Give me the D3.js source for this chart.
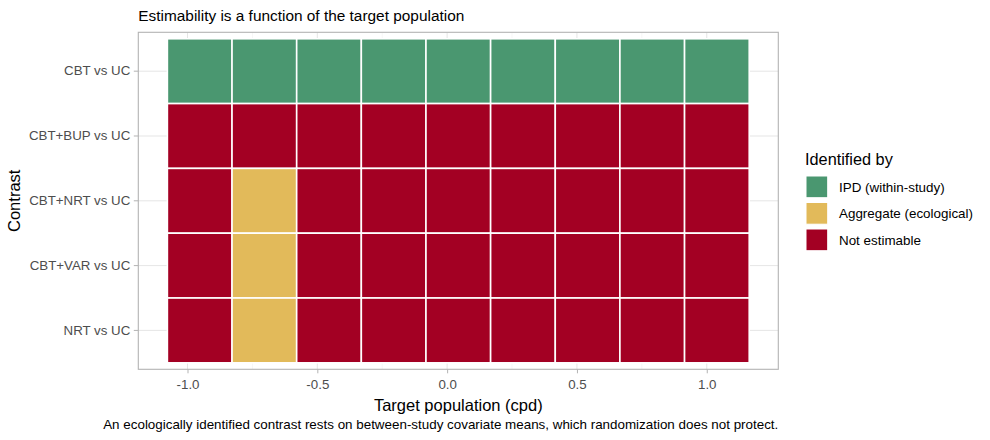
<!DOCTYPE html>
<html>
<head>
<meta charset="utf-8">
<script src="https://cdn.jsdelivr.net/npm/d3@7"></script>
<style>
  body { margin: 0; background: #fff; }
  svg text { font-family: "Liberation Sans", Arial, Helvetica, sans-serif; }
</style>
</head>
<body>
<div id="chart"></div>
<script>
// contrasts, top to bottom
var contrasts = ["CBT vs UC", "CBT+BUP vs UC", "CBT+NRT vs UC", "CBT+VAR vs UC", "NRT vs UC"]
// tile centres on the target population axis (cpd, standardised)
var xCenters = [-0.953, -0.704, -0.455, -0.206, 0.043, 0.292, 0.541, 0.790, 1.039]
var tileWidth = 0.249
var xTicks = [-1.0, -0.5, 0.0, 0.5, 1.0]
var xMinor = [-0.75, -0.25, 0.25, 0.75]

var levels = ["IPD (within-study)", "Aggregate (ecological)", "Not estimable"]
var levelColors = ["#4a9770", "#e2ba5a", "#a30023"]

// identification status per contrast, one entry per x tile (0 = IPD, 1 = aggregate, 2 = not)
var idStatus = {
    "CBT vs UC":     [0, 0, 0, 0, 0, 0, 0, 0, 0],
    "CBT+BUP vs UC": [2, 2, 2, 2, 2, 2, 2, 2, 2],
    "CBT+NRT vs UC": [2, 1, 2, 2, 2, 2, 2, 2, 2],
    "CBT+VAR vs UC": [2, 1, 2, 2, 2, 2, 2, 2, 2],
    "NRT vs UC":     [2, 1, 2, 2, 2, 2, 2, 2, 2]
}

var W = 990, H = 440
var panel = { left: 138.3, right: 778.3, top: 32.3, bottom: 369.3 }

var cells = []
contrasts.forEach(function(c) {
    idStatus[c].forEach(function(s, i) {
        cells.push({ contrast: c, x: xCenters[i], level: s })
    })
})

// ggplot style 5% expansion of the tile range
var lo = d3.min(xCenters) - tileWidth / 2
var hi = d3.max(xCenters) + tileWidth / 2
var pad = (hi - lo) * 0.05

var xScale = d3.scaleLinear()
    .domain([lo - pad, hi + pad])
    .range([panel.left, panel.right])

var yScale = d3.scaleBand()
    .domain(contrasts)
    .range([panel.top, panel.bottom])
    .paddingInner(0)
    .paddingOuter(0.1)

var svg = d3.select("#chart").append("svg")
    .attr("width", W)
    .attr("height", H)

// grid
var grid = svg.append("g")
grid.selectAll(".minor")
    .data(xMinor)
    .enter().append("line")
    .attr("x1", function(d) { return xScale(d) })
    .attr("x2", function(d) { return xScale(d) })
    .attr("y1", panel.top)
    .attr("y2", panel.bottom)
    .attr("stroke", "#ededed")
    .attr("stroke-width", 0.5)
grid.selectAll(".major")
    .data(xTicks)
    .enter().append("line")
    .attr("x1", function(d) { return xScale(d) })
    .attr("x2", function(d) { return xScale(d) })
    .attr("y1", panel.top)
    .attr("y2", panel.bottom)
    .attr("stroke", "#dedede")
    .attr("stroke-width", 0.8)
grid.selectAll(".ymajor")
    .data(contrasts)
    .enter().append("line")
    .attr("x1", panel.left)
    .attr("x2", panel.right)
    .attr("y1", function(d) { return yScale(d) + yScale.bandwidth() / 2 })
    .attr("y2", function(d) { return yScale(d) + yScale.bandwidth() / 2 })
    .attr("stroke", "#dedede")
    .attr("stroke-width", 0.8)

// tiles
svg.selectAll(".tile")
    .data(cells)
    .enter().append("rect")
    .attr("class", "tile")
    .attr("x", function(d) { return xScale(d.x - tileWidth / 2) })
    .attr("width", function(d) { return xScale(d.x + tileWidth / 2) - xScale(d.x - tileWidth / 2) })
    .attr("y", function(d) { return yScale(d.contrast) })
    .attr("height", yScale.bandwidth())
    .attr("fill", function(d) { return levelColors[d.level] })
    .attr("stroke", "#ffffff")
    .attr("stroke-width", 1.6)

// panel border
svg.append("rect")
    .attr("x", panel.left)
    .attr("y", panel.top)
    .attr("width", panel.right - panel.left)
    .attr("height", panel.bottom - panel.top)
    .attr("fill", "none")
    .attr("stroke", "#b3b3b3")
    .attr("stroke-width", 1.1)

// axes
var xAxis = svg.append("g")
    .attr("transform", "translate(0," + panel.bottom + ")")
    .call(d3.axisBottom(xScale).tickValues(xTicks)
        .tickFormat(function(d) { return d.toFixed(1) })
        .tickSize(4).tickPadding(6.5))
var yAxis = svg.append("g")
    .attr("transform", "translate(" + panel.left + ",0)")
    .call(d3.axisLeft(yScale).tickSize(4.5).tickPadding(3.5))

var axes = [xAxis, yAxis]
axes.forEach(function(ax) {
    ax.select(".domain").remove()
    ax.selectAll(".tick line").attr("stroke", "#b3b3b3").attr("stroke-width", 1)
    ax.selectAll(".tick text")
        .attr("fill", "#4d4d4d")
        .style("font-size", "13.3px")
        .style("font-family", "'Liberation Sans', Arial, sans-serif")
})

// titles
svg.append("text")
    .attr("x", panel.left)
    .attr("y", 21)
    .attr("fill", "#000")
    .style("font-size", "15.4px")
    .text("Estimability is a function of the target population")

svg.append("text")
    .attr("x", (panel.left + panel.right) / 2)
    .attr("y", 411)
    .attr("text-anchor", "middle")
    .attr("fill", "#000")
    .style("font-size", "16.5px")
    .text("Target population (cpd)")

svg.append("text")
    .attr("transform", "translate(20," + ((panel.top + panel.bottom) / 2) + ") rotate(-90)")
    .attr("text-anchor", "middle")
    .attr("fill", "#000")
    .style("font-size", "16.5px")
    .text("Contrast")

svg.append("text")
    .attr("x", panel.right)
    .attr("y", 429)
    .attr("text-anchor", "end")
    .attr("fill", "#000")
    .style("font-size", "13.4px")
    .text("An ecologically identified contrast rests on between-study covariate means, which randomization does not protect.")

// legend
var legend = svg.append("g").attr("transform", "translate(805,0)")
legend.append("text")
    .attr("x", 0)
    .attr("y", 165)
    .attr("fill", "#000")
    .style("font-size", "16.3px")
    .text("Identified by")

var keys = legend.selectAll(".key")
    .data(levels)
    .enter().append("g")
    .attr("transform", function(d, i) { return "translate(0," + (176 + i * 26.5) + ")" })
keys.append("rect")
    .attr("x", 1)
    .attr("y", 0)
    .attr("width", 21.7)
    .attr("height", 21.7)
    .attr("fill", function(d, i) { return levelColors[i] })
    .attr("stroke", "#fff")
    .attr("stroke-width", 1)
keys.append("text")
    .attr("x", 34)
    .attr("y", 15.5)
    .attr("fill", "#000")
    .style("font-size", "13.4px")
    .text(function(d) { return d })
</script>
</body>
</html>
